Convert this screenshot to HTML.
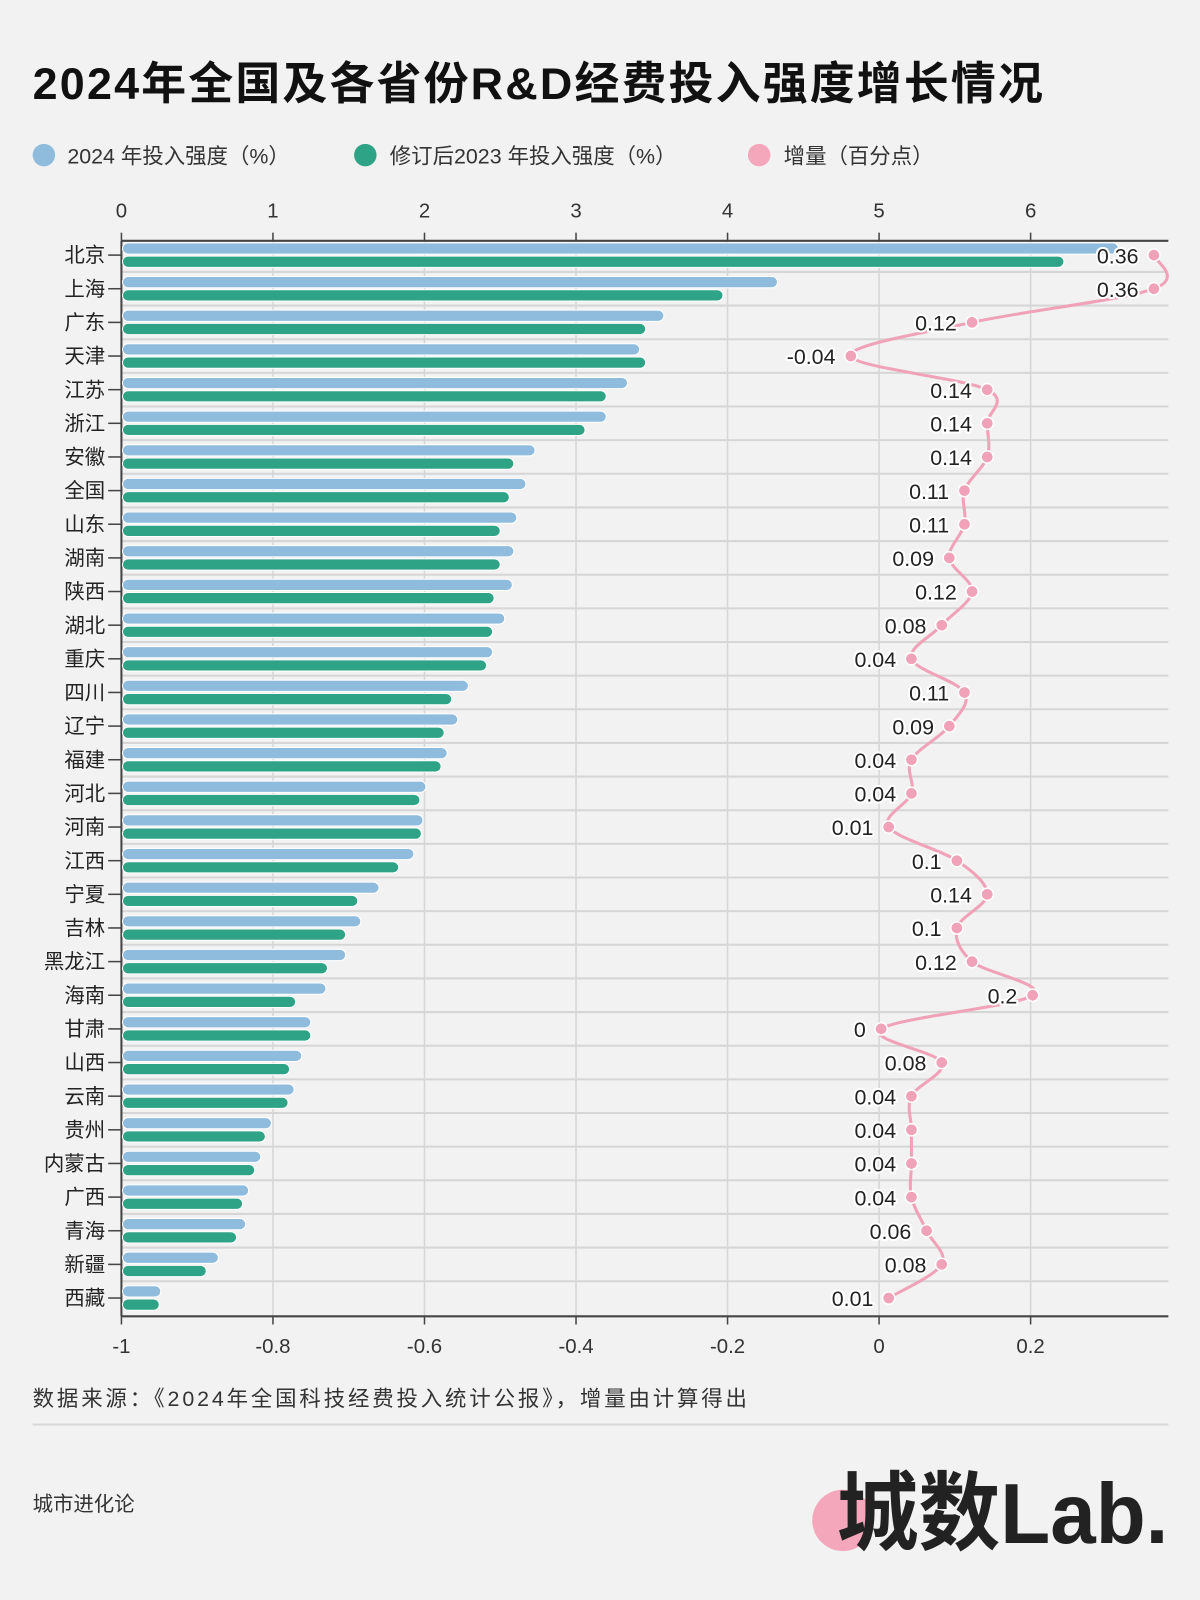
<!DOCTYPE html>
<html><head><meta charset="utf-8"><style>
html,body{margin:0;padding:0;background:#f2f2f2;}
svg{display:block;}
text{font-family:"Liberation Sans","Noto Sans CJK SC",sans-serif;}
</style></head><body>
<svg id="c" width="1200" height="1600" viewBox="0 0 1176 1568" xmlns="http://www.w3.org/2000/svg">
<rect width="1176" height="1568" fill="#f2f2f2"/>
<text x="32" y="97" font-size="44" font-weight="bold" fill="#111" textLength="990" lengthAdjust="spacing">2024年全国及各省份R&amp;D经费投入强度增长情况</text>
<circle cx="43" cy="152" r="11" fill="#8fbcdc"/><text x="66" y="160" font-size="21" fill="#333">2024 年投入强度（%）</text>
<circle cx="358" cy="152" r="11" fill="#2fa386"/><text x="382" y="160" font-size="21" fill="#333">修订后2023 年投入强度（%）</text>
<circle cx="744" cy="152" r="11" fill="#f4a7bb"/><text x="768" y="160" font-size="21" fill="#333">增量（百分点）</text>
<g id="g"></g>
<text x="32" y="1378" font-size="21" fill="#333" textLength="700" lengthAdjust="spacing">数据来源：《2024年全国科技经费投入统计公报》，增量由计算得出</text>
<line x1="32" y1="1396" x2="1145" y2="1396" stroke="#d8d8d8" stroke-width="2"/>
<text x="32" y="1481" font-size="20" fill="#333">城市进化论</text>
<circle cx="826" cy="1490" r="30" fill="#f4a7bb"/>
<text x="1145" y="1512" text-anchor="end" font-size="84" font-weight="bold" fill="#222" textLength="325" lengthAdjust="spacingAndGlyphs">城数Lab.</text>
</svg>
<script>
const names=["北京","上海","广东","天津","江苏","浙江","安徽","全国","山东","湖南","陕西","湖北","重庆","四川","辽宁","福建","河北","河南","江西","宁夏","吉林","黑龙江","海南","甘肃","山西","云南","贵州","内蒙古","广西","青海","新疆","西藏"];
const v24=[6.58,4.33,3.58,3.42,3.34,3.20,2.73,2.67,2.61,2.59,2.58,2.53,2.45,2.29,2.22,2.15,2.01,1.99,1.93,1.70,1.58,1.48,1.35,1.25,1.19,1.14,0.99,0.92,0.84,0.82,0.64,0.26];
const inc=[0.36,0.36,0.12,-0.04,0.14,0.14,0.14,0.11,0.11,0.09,0.12,0.08,0.04,0.11,0.09,0.04,0.04,0.01,0.1,0.14,0.1,0.12,0.2,0,0.08,0.04,0.04,0.04,0.04,0.06,0.08,0.01];
let s="";
const X0=119,U=148.5,Z=863.5,W=742.5,Y0=250,DY=32.97;
for(let i=1;i<=6;i++){const x=X0+i*U;s+=`<line x1="${x}" y1="236" x2="${x}" y2="1290" stroke="#d6d6d6" stroke-width="1.5"/>`;}
for(let i=0;i<31;i++){const y=Y0+DY*i+DY/2;s+=`<line x1="${X0}" y1="${y}" x2="1145" y2="${y}" stroke="#d6d6d6" stroke-width="2"/>`;}
s+=`<line x1="${X0}" y1="236" x2="1145" y2="236" stroke="#444" stroke-width="2"/>`;
for(let i=0;i<=6;i++){const x=X0+i*U;s+=`<line x1="${x}" y1="228" x2="${x}" y2="236" stroke="#444" stroke-width="1.5"/><text x="${x}" y="213" text-anchor="middle" font-size="20" fill="#333">${i}</text>`;}
s+=`<line x1="${X0}" y1="1290" x2="1145" y2="1290" stroke="#444" stroke-width="2"/>`;
const bl=["-1","-0.8","-0.6","-0.4","-0.2","0","0.2"];
for(let i=0;i<7;i++){const x=X0+i*U;s+=`<line x1="${x}" y1="1290" x2="${x}" y2="1298" stroke="#444" stroke-width="1.5"/><text x="${x}" y="1326" text-anchor="middle" font-size="20" fill="#333">${bl[i]}</text>`;}
s+=`<line x1="${X0}" y1="236" x2="${X0}" y2="1290" stroke="#444" stroke-width="2"/>`;
for(let i=0;i<32;i++){const y=Y0+DY*i;const b=X0+v24[i]*U,g=X0+(v24[i]-inc[i])*U;
s+=`<text x="103" y="${y+7}" text-anchor="end" font-size="20" fill="#222">${names[i]}</text><line x1="106" y1="${y}" x2="${X0}" y2="${y}" stroke="#444" stroke-width="1.5"/>`;
s+=`<rect x="${X0+1}" y="${y-12}" width="${b-X0-1}" height="11" rx="5.5" fill="#8fbcdc" stroke="#fff" stroke-width="1"/>`;
s+=`<rect x="${X0+1}" y="${y+1}" width="${g-X0-1}" height="11" rx="5.5" fill="#2fa386" stroke="#fff" stroke-width="1"/>`;}
const P=inc.map((v,i)=>[Z+W*v,Y0+DY*i]);
let d=`M${P[0][0]},${P[0][1]}`;
for(let i=0;i<P.length-1;i++){const p0=P[Math.max(0,i-1)],p1=P[i],p2=P[i+1],p3=P[Math.min(P.length-1,i+2)];
const c1=[p1[0]+(p2[0]-p0[0])/6,p1[1]+(p2[1]-p0[1])/6],c2=[p2[0]-(p3[0]-p1[0])/6,p2[1]-(p3[1]-p1[1])/6];
d+=` C${c1[0]},${c1[1]} ${c2[0]},${c2[1]} ${p2[0]},${p2[1]}`;}
s+=`<path d="${d}" fill="none" stroke="#f0a3b8" stroke-width="3"/>`;
P.forEach((p,i)=>{s+=`<circle cx="${p[0]}" cy="${p[1]}" r="6" fill="#f0a3b8" stroke="#fff" stroke-width="1.5"/>`;
s+=`<text x="${p[0]-15}" y="${p[1]+8}" text-anchor="end" font-size="21" fill="#222" stroke="#fff" stroke-width="4" paint-order="stroke">${inc[i]}</text>`;});
document.getElementById("g").innerHTML=s;
</script>
</body></html>
